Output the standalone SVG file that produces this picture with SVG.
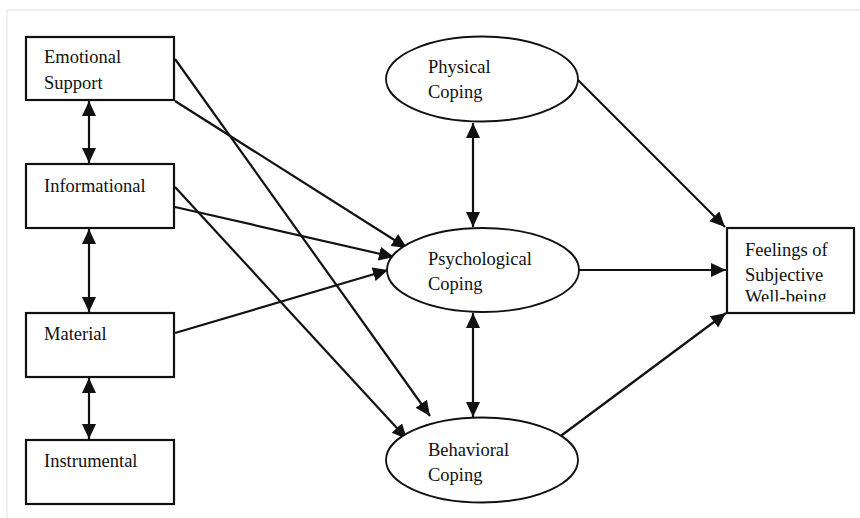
<svg xmlns="http://www.w3.org/2000/svg" width="860" height="518" viewBox="0 0 860 518">
<style>
.box{fill:#fff;stroke:#111;stroke-width:2.2}
.ell{fill:#fff;stroke:#111;stroke-width:1.8}
.lbl{font-family:"Liberation Serif","Times New Roman",serif;font-size:18.5px;fill:#111}
.con{stroke:#111;stroke-width:2.2;fill:none}
.one{marker-end:url(#ah)}
.two{marker-start:url(#ahs);marker-end:url(#ah)}
</style>
<defs>
<marker id="ah" markerUnits="userSpaceOnUse" markerWidth="16" markerHeight="16" refX="15" refY="7" orient="auto">
<path d="M0,0 L15,7 L0,14 z" fill="#111"/>
</marker>
<marker id="ahs" markerUnits="userSpaceOnUse" markerWidth="16" markerHeight="16" refX="0" refY="7" orient="auto">
<path d="M15,0 L0,7 L15,14 z" fill="#111"/>
</marker>
<clipPath id="fclip"><rect x="727" y="228" width="127" height="73.5"/></clipPath>
</defs>
<rect x="0" y="0" width="860" height="518" fill="#fff"/>
<g id="frame">
<line x1="7" y1="10" x2="860" y2="10" stroke="#e6e6e6" stroke-width="1.5"/>
<line x1="7" y1="10" x2="7" y2="518" stroke="#ececec" stroke-width="1.5"/>
</g>
<g id="connectors">
<line class="con two" x1="89" y1="101" x2="89" y2="163"/>
<line class="con two" x1="89" y1="229" x2="89" y2="312"/>
<line class="con two" x1="89" y1="378" x2="89" y2="439"/>
<line class="con two" x1="473" y1="123" x2="473" y2="227"/>
<line class="con two" x1="473" y1="313" x2="473" y2="417"/>
<line class="con one" x1="175" y1="59" x2="430" y2="416"/>
<line class="con one" x1="175" y1="101" x2="407" y2="248"/>
<line class="con one" x1="175" y1="187" x2="407" y2="439"/>
<line class="con one" x1="175" y1="207" x2="394" y2="257"/>
<line class="con one" x1="175" y1="333" x2="388" y2="270"/>
<line class="con one" x1="578" y1="80" x2="725" y2="227"/>
<line class="con one" x1="579" y1="270" x2="726" y2="270"/>
<line class="con one" x1="558" y1="438" x2="726" y2="313"/>
</g>
<g id="emotional">
<rect class="box" x="26" y="37" width="148" height="63"/>
<text class="lbl" x="44" y="63">Emotional</text>
<text class="lbl" x="44" y="89">Support</text>
</g>
<g id="informational">
<rect class="box" x="26" y="164" width="148" height="64"/>
<text class="lbl" x="44" y="192">Informational</text>
</g>
<g id="material">
<rect class="box" x="26" y="313" width="148" height="64"/>
<text class="lbl" x="44" y="340">Material</text>
</g>
<g id="instrumental">
<rect class="box" x="26" y="440" width="148" height="64"/>
<text class="lbl" x="44" y="467">Instrumental</text>
</g>
<g id="physical">
<ellipse class="ell" cx="482" cy="79" rx="96" ry="42.5"/>
<text class="lbl" x="428" y="73">Physical</text>
<text class="lbl" x="428" y="98">Coping</text>
</g>
<g id="psychological">
<ellipse class="ell" cx="483" cy="270" rx="96" ry="42"/>
<text class="lbl" x="428" y="265">Psychological</text>
<text class="lbl" x="428" y="290">Coping</text>
</g>
<g id="behavioral">
<ellipse class="ell" cx="482" cy="460" rx="96" ry="42.5"/>
<text class="lbl" x="428" y="456">Behavioral</text>
<text class="lbl" x="428" y="481">Coping</text>
</g>
<g id="feelings">
<rect class="box" x="727" y="228" width="127" height="85"/>
<g clip-path="url(#fclip)">
<text class="lbl" x="745" y="256">Feelings of</text>
<text class="lbl" x="745" y="281">Subjective</text>
<text class="lbl" x="745" y="303">Well-being</text>
</g>
</g>
</svg>
